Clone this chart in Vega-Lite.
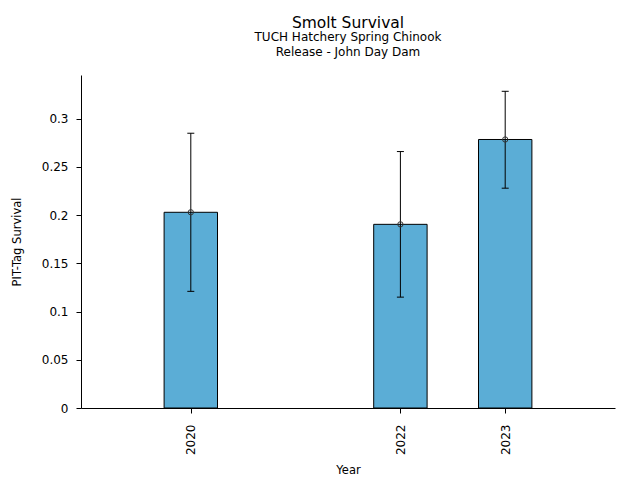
{
  "$schema": "https://vega.github.io/schema/vega-lite/v6.json",
  "width": 534,
  "height": 333,
  "autosize": "none",
  "padding": {"left": 81, "top": 75, "right": 25, "bottom": 72},
  "background": "white",
  "title": {
    "text": "Smolt Survival",
    "subtitle": ["TUCH Hatchery Spring Chinook", "Release - John Day Dam"],
    "anchor": "middle",
    "font": "DejaVu Sans",
    "fontSize": 15.5,
    "fontWeight": "normal",
    "color": "black",
    "subtitleFont": "DejaVu Sans",
    "subtitleFontSize": 12,
    "subtitleColor": "black",
    "subtitleLineHeight": 15,
    "subtitlePadding": 1,
    "offset": 17
  },
  "data": {
    "values": [
      {"Year": 2020, "survival": 0.203, "lower": 0.121, "upper": 0.285},
      {"Year": 2022, "survival": 0.1905, "lower": 0.115, "upper": 0.266},
      {"Year": 2023, "survival": 0.2785, "lower": 0.228, "upper": 0.3285}
    ]
  },
  "encoding": {
    "x": {
      "field": "Year",
      "type": "quantitative",
      "title": "Year",
      "scale": {"domain": [2019, 2024], "nice": false, "zero": false},
      "axis": {
        "values": [2020, 2022, 2023],
        "format": "d",
        "labelAngle": -90,
        "labelAlign": "right",
        "labelBaseline": "middle",
        "labelPadding": 11,
        "titlePadding": 10
      }
    }
  },
  "layer": [
    {
      "mark": {"type": "bar", "width": 53.4, "color": "#5BADD6", "stroke": "black", "strokeWidth": 1},
      "encoding": {
        "y": {
          "field": "survival",
          "type": "quantitative",
          "title": "PIT-Tag Survival",
          "scale": {"domain": [0, 0.3454], "nice": false},
          "axis": {
            "values": [0, 0.05, 0.1, 0.15, 0.2, 0.25, 0.3],
            "format": "~g",
            "labelPadding": 8,
            "titlePadding": 19
          }
        }
      }
    },
    {
      "mark": {"type": "rule", "color": "black", "strokeWidth": 1},
      "encoding": {
        "y": {"field": "lower", "type": "quantitative", "title": "PIT-Tag Survival"},
        "y2": {"field": "upper"}
      }
    },
    {
      "mark": {"type": "tick", "orient": "horizontal", "color": "black", "size": 7, "thickness": 1, "opacity": 1},
      "encoding": {
        "y": {"field": "lower", "type": "quantitative", "title": "PIT-Tag Survival"}
      }
    },
    {
      "mark": {"type": "tick", "orient": "horizontal", "color": "black", "size": 7, "thickness": 1, "opacity": 1},
      "encoding": {
        "y": {"field": "upper", "type": "quantitative", "title": "PIT-Tag Survival"}
      }
    },
    {
      "mark": {"type": "point", "filled": false, "size": 28, "stroke": "#333333", "strokeWidth": 1, "opacity": 1},
      "encoding": {
        "y": {"field": "survival", "type": "quantitative", "title": "PIT-Tag Survival"}
      }
    }
  ],
  "config": {
    "view": {"stroke": null},
    "font": "DejaVu Sans",
    "axis": {
      "grid": false,
      "domainColor": "black",
      "domainWidth": 1,
      "tickColor": "black",
      "tickWidth": 1,
      "tickSize": 5,
      "labelColor": "black",
      "labelFont": "DejaVu Sans",
      "labelFontSize": 12,
      "titleFont": "DejaVu Sans",
      "titleFontSize": 11.5,
      "titleFontWeight": "normal",
      "titleColor": "black"
    }
  }
}
